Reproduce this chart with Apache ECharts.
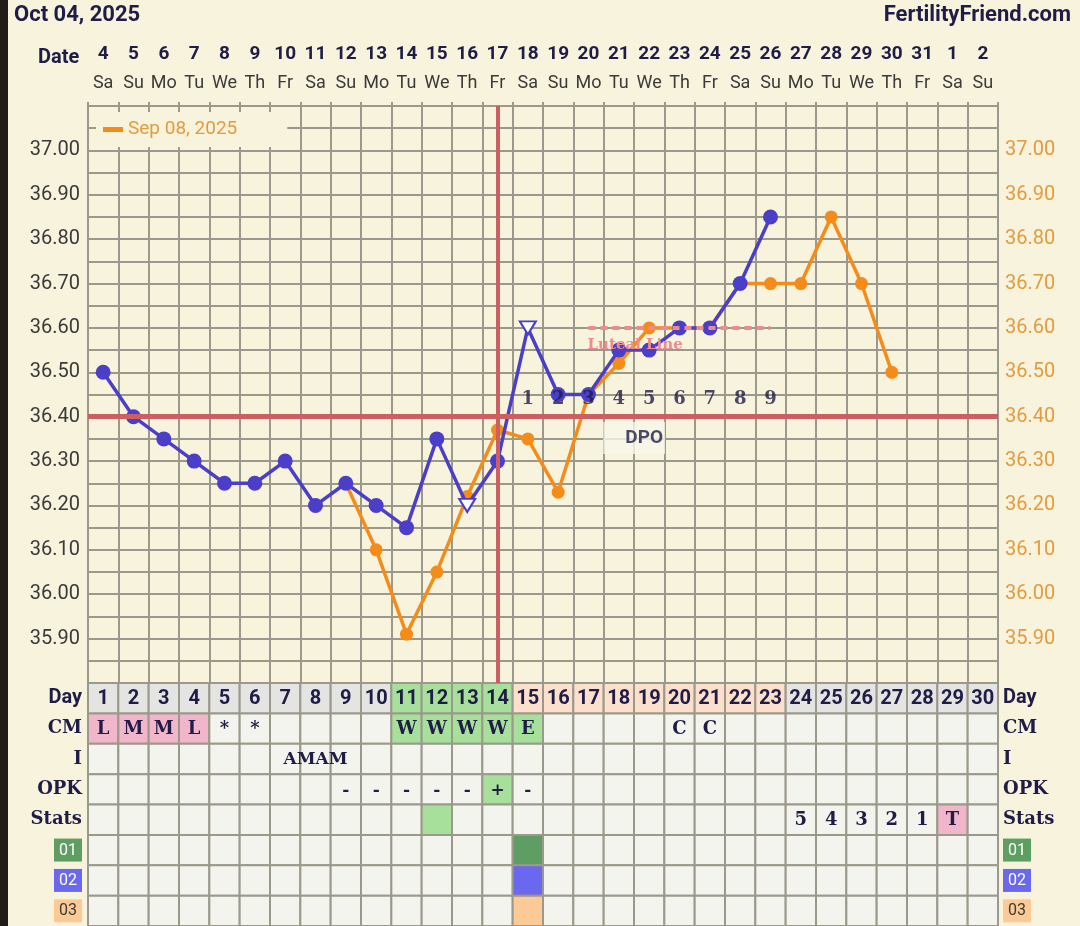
<!DOCTYPE html>
<html><head><meta charset="utf-8">
<script src="https://cdn.jsdelivr.net/npm/echarts@6/dist/echarts.min.js"></script>
<style>html,body{margin:0;padding:0;background:#f8f3dc}#c{width:1080px;height:926px}</style>
</head><body><div id="c"></div><script>
// ---------- data ----------
const cycleDays = ['1','2','3','4','5','6','7','8','9','10','11','12','13','14','15','16','17','18','19','20','21','22','23','24','25','26','27','28','29','30'];
const dateLabels = ['4','5','6','7','8','9','10','11','12','13','14','15','16','17','18','19','20','21','22','23','24','25','26','27','28','29','30','31','1','2'];
const weekdayLabels = ['Sa','Su','Mo','Tu','We','Th','Fr','Sa','Su','Mo','Tu','We','Th','Fr','Sa','Su','Mo','Tu','We','Th','Fr','Sa','Su','Mo','Tu','We','Th','Fr','Sa','Su'];
const currentTemps = [36.50,36.40,36.35,36.30,36.25,36.25,36.30,36.20,36.25,36.20,36.15,36.35,36.20,36.30,36.60,36.45,36.45,36.55,36.55,36.60,36.60,36.70,36.85,null,null,null,null,null,null,null];
const openMarkerDays = ['13','15'];
const overlayName = 'Sep 08, 2025';
const overlayTemps = [null,null,null,null,null,null,null,null,36.25,36.10,35.91,36.05,36.22,36.37,36.35,36.23,36.45,36.52,36.60,36.60,36.60,36.70,36.70,36.70,36.85,36.70,36.50,null,null,null];
const coverlineTemp = 36.40;
const coverlineDay = '14';
const lutealTemp = 36.60;
const lutealFrom = '17';
const lutealTo = '23';
const dpoDays = ['15','16','17','18','19','20','21','22','23'];
const dpoLabels = ['1','2','3','4','5','6','7','8','9'];
const tableRows = ['Day','CM','I','OPK','Stats','01','02','03'];
const dayPhases = ['n','n','n','n','n','n','n','n','n','n','f','f','f','f','l','l','l','l','l','l','l','l','l','n','n','n','n','n','n','n'];
const cmValues = ['L','M','M','L','*','*','','','','','W','W','W','W','E','','','','','C','C','','','','','','','','',''];
const intercourseValues = ['','','','','','','','AMAM','','','','','','','','','','','','','','','','','','','','','',''];
const opkValues = ['','','','','','','','','-','-','-','-','-','+','-','','','','','','','','','','','','','','',''];
const statsValues = ['','','','','','','','','','','','','','','','','','','','','','','','5','4','3','2','1','T',''];
const statsPeakDays = ['12'];
const customMarks = { '01': ['15'], '02': ['15'], '03': ['15'] };

// ---------- styles ----------
const BG = '#f8f3dc', GRID = '#9b998c', NAVY = '#1f1c47';
const BLUE = '#4b3ec8', ORANGE = '#f58c1a', RED = '#cb5f62', PINKLINE = '#f08a8f';
const phaseFill = { n: '#e4e4e2', f: '#a6e09a', l: '#fde0cc' };
const CELL = '#f4f4ee', GREEN = '#a6e09a', PINK = '#f1b6c9';
const badgeFill = { '01': '#5e9e62', '02': '#6a68ee', '03': '#fdc995' };
const SERIF = 'DejaVu Serif', SANS = 'Roboto';

// ---------- table cells ----------
const tableCells = [];
cycleDays.forEach((d, i) => {
  tableCells.push({ x: i, y: 0, fill: phaseFill[dayPhases[i]], text: d, fam: SANS, size: 20 });
  const cm = cmValues[i];
  tableCells.push({ x: i, y: 1, fill: /[LMH]/.test(cm) ? PINK : (/[WE]/.test(cm) ? GREEN : CELL), text: cm, fam: SERIF, size: 18 });
  tableCells.push({ x: i, y: 2, fill: CELL, text: intercourseValues[i], fam: SERIF, size: 17 });
  tableCells.push({ x: i, y: 3, fill: opkValues[i] === '+' ? GREEN : CELL, text: opkValues[i], fam: SERIF, size: 17 });
  const st = statsValues[i];
  tableCells.push({ x: i, y: 4, fill: st === 'T' ? PINK : (statsPeakDays.includes(d) ? GREEN : CELL), text: st, fam: SERIF, size: 18 });
  ['01','02','03'].forEach((k, j) => {
    tableCells.push({ x: i, y: 5 + j, fill: customMarks[k].includes(d) ? badgeFill[k] : CELL, text: '', fam: SANS, size: 16 });
  });
});

function renderCell(params, api) {
  const cell = tableCells[params.dataIndex];
  const c = api.coord([api.value(0), api.value(1)]);
  const s = api.size([1, 1]);
  return {
    type: 'group',
    children: [
      { type: 'rect', z2: 1, shape: { x: c[0] - s[0] / 2, y: c[1] - s[1] / 2, width: s[0], height: s[1] },
        style: { fill: cell.fill, stroke: GRID, lineWidth: 2 } },
      { type: 'text', z2: 50, x: c[0], y: c[1] + 1,
        style: { text: cell.text, align: 'center', verticalAlign: 'middle', textAlign: 'center', textVerticalAlign: 'middle',
                 fontFamily: cell.fam, fontWeight: 'bold', fontSize: cell.size, fill: NAVY } }
    ]
  };
}

const yFmt = v => { const c = Math.round(v * 100); return (c % 10 === 0 && c >= 3590 && c <= 3700) ? (c / 100).toFixed(2) : ''; };
const rowLabelRich = {
  sans: { fontFamily: SANS, fontWeight: 'bold', fontSize: 20, color: NAVY },
  serif: { fontFamily: SERIF, fontWeight: 'bold', fontSize: 18, color: NAVY },
  b01: { backgroundColor: badgeFill['01'], color: '#fff', fontFamily: SANS, fontSize: 16, padding: [4, 5, 3, 5] },
  b02: { backgroundColor: badgeFill['02'], color: '#fff', fontFamily: SANS, fontSize: 16, padding: [4, 5, 3, 5] },
  b03: { backgroundColor: badgeFill['03'], color: '#3a3a3a', fontFamily: SANS, fontSize: 16, padding: [4, 5, 3, 5] }
};
const rowFmt = v => v === 'Day' ? '{sans|Day}' : (badgeFill[v] ? '{b' + v + '|' + v + '}' : '{serif|' + v + '}');

const chart = echarts.init(document.getElementById('c'));
chart.setOption({
  backgroundColor: BG,
  animation: false,
  graphic: [
    { type: 'rect', left: 0, top: 0, shape: { width: 8, height: 926 }, style: { fill: '#1e1d18' } },
    { type: 'text', left: 14, top: 4, style: { text: 'Oct 04, 2025', fontFamily: SANS, fontWeight: 'bold', fontSize: 22, fill: NAVY } },
    { type: 'text', right: 9, top: 4, style: { text: 'FertilityFriend.com', fontFamily: SANS, fontWeight: 'bold', fontSize: 22, fill: NAVY } },
    { type: 'text', left: 38, top: 48, style: { text: 'Date', fontFamily: SANS, fontWeight: 'bold', fontSize: 20, fill: NAVY } }
  ],
  legend: {
    data: [{ name: overlayName, icon: 'rect' }],
    left: 96, top: 112, itemWidth: 20, itemHeight: 5, itemGap: 4,
    padding: [8, 50, 8, 7], backgroundColor: BG,
    textStyle: { color: '#e39b3e', fontSize: 19, fontFamily: SANS }
  },
  grid: [
    { left: 88, right: 82, top: 106, height: 577 },
    { left: 88, right: 82, top: 683, height: 243 }
  ],
  xAxis: [
    { type: 'category', gridIndex: 0, data: cycleDays, position: 'top',
      axisLine: { show: false }, axisTick: { show: true, interval: 0, length: 4, lineStyle: { color: GRID, width: 2 } },
      axisLabel: { interval: 0, margin: 14, fontSize: 18, color: '#3a3a3a', fontFamily: SANS, formatter: (v, i) => weekdayLabels[i] },
      splitLine: { show: true, interval: 0, lineStyle: { color: GRID, width: 2 } } },
    { type: 'category', gridIndex: 0, data: cycleDays, position: 'top', offset: 28,
      axisLine: { show: false }, axisTick: { show: false }, splitLine: { show: false },
      axisLabel: { interval: 0, margin: 14, fontSize: 19, fontWeight: 'bold', color: NAVY, fontFamily: SANS, formatter: (v, i) => dateLabels[i] } },
    { type: 'category', gridIndex: 1, data: cycleDays, show: false }
  ],
  yAxis: [
    { type: 'value', gridIndex: 0, min: 35.8, max: 37.1, interval: 0.05, position: 'left',
      axisLine: { show: true, lineStyle: { color: GRID, width: 2 } }, axisTick: { show: false },
      splitLine: { show: true, lineStyle: { color: GRID, width: 2 } },
      axisLabel: { formatter: yFmt, fontSize: 20, color: '#3a3a3a', fontFamily: SANS, margin: 8 } },
    { type: 'value', gridIndex: 0, min: 35.8, max: 37.1, interval: 0.05, position: 'right',
      axisLine: { show: true, lineStyle: { color: GRID, width: 2 } }, axisTick: { show: false },
      splitLine: { show: false },
      axisLabel: { formatter: yFmt, fontSize: 20, color: '#e39b3e', fontFamily: SANS, margin: 7 } },
    { type: 'category', gridIndex: 1, data: tableRows, inverse: true, position: 'left',
      axisLine: { show: false }, axisTick: { show: false },
      axisLabel: { interval: 0, margin: 6, formatter: rowFmt, rich: rowLabelRich } },
    { type: 'category', gridIndex: 1, data: tableRows, inverse: true, position: 'right',
      axisLine: { show: false }, axisTick: { show: false },
      axisLabel: { interval: 0, margin: 5, formatter: rowFmt, rich: rowLabelRich } }
  ],
  series: [
    { name: 'coverline', type: 'line', xAxisIndex: 0, yAxisIndex: 0, data: [], z: 1, silent: true,
      markLine: { symbol: 'none', silent: true, label: { show: false },
        data: [
          { yAxis: coverlineTemp, lineStyle: { color: RED, width: 5, type: 'solid' } },
          { xAxis: coverlineDay, lineStyle: { color: RED, width: 4, type: 'solid' } }
        ] } },
    { name: 'luteal', type: 'line', xAxisIndex: 0, yAxisIndex: 0, data: [], z: 1, silent: true,
      markLine: { symbol: 'none', silent: true,
        label: { show: true, position: 'insideStartBottom', formatter: 'Luteal Line', color: PINKLINE,
                 fontFamily: SERIF, fontWeight: 'bold', fontSize: 15, distance: [-1, 10] },
        lineStyle: { color: PINKLINE, width: 4, type: [7, 5] },
        data: [[{ coord: [lutealFrom, lutealTemp] }, { coord: [lutealTo, lutealTemp] }]] } },
    { name: overlayName, type: 'line', xAxisIndex: 0, yAxisIndex: 0, z: 3, data: overlayTemps,
      color: ORANGE, symbol: 'circle', symbolSize: 13, lineStyle: { width: 3.5, color: ORANGE },
      itemStyle: { color: ORANGE } },
    { name: 'current', type: 'line', xAxisIndex: 0, yAxisIndex: 0, z: 4,
      data: currentTemps.map((t, i) => openMarkerDays.includes(cycleDays[i])
        ? { value: t, symbol: 'triangle', symbolRotate: 180, symbolSize: [16, 13], itemStyle: { color: '#ffffff', borderColor: BLUE, borderWidth: 2 } }
        : t),
      color: BLUE, symbol: 'circle', symbolSize: 15, lineStyle: { width: 3.5, color: BLUE },
      itemStyle: { color: BLUE } },
    { name: 'dpo', type: 'scatter', xAxisIndex: 0, yAxisIndex: 0, z: 6, symbolSize: 0, silent: true,
      data: dpoDays.map((d, i) => ({ value: [d, 36.44], name: dpoLabels[i] })),
      label: { show: true, position: 'inside', formatter: p => p.name, color: NAVY,
               fontFamily: SERIF, fontWeight: 'bold', fontSize: 18 } },
    { name: 'dpoTitle', type: 'scatter', xAxisIndex: 0, yAxisIndex: 0, z: 6, symbolSize: 0, silent: true,
      data: [{ value: ['19', 36.352], name: 'DPO' }],
      label: { show: true, position: 'inside', formatter: 'DPO', color: NAVY, fontFamily: SANS, fontWeight: 'bold',
               fontSize: 19, backgroundColor: '#f8f6ea', padding: [7, 2, 6, 22], offset: [-15, 0] } },
    { name: 'table', type: 'custom', xAxisIndex: 2, yAxisIndex: 2, silent: true, clip: false,
      data: tableCells.map(c => [c.x, c.y]), renderItem: renderCell }
  ]
});
</script></body></html>
